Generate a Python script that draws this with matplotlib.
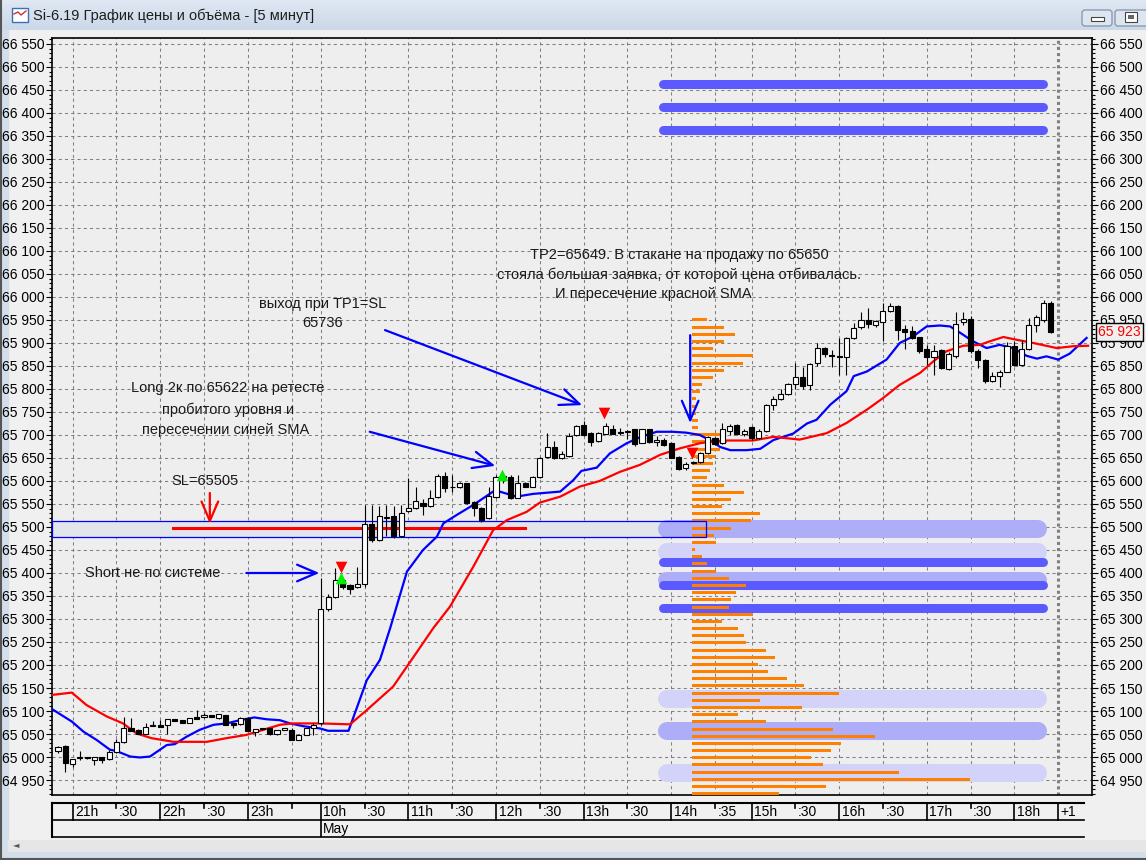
import numpy as np
import matplotlib.pyplot as plt
from matplotlib.patches import Rectangle, FancyBboxPatch

plt.rcParams['font.family'] = ['Liberation Sans', 'DejaVu Sans']

W, H = 1146, 860

# candles, 5 min, index 0 = 20:50
candle_open = [65012, 65024, 64984, 64997, 65000, 64993, 65000, 64995, 65010, 65032,
               65064, 65058, 65050, 65068, 65070, 65070, 65082, 65080, 65075, 65088,
               65086, 65091, 65084, 65091, 65073, 65071, 65085, 65055, 65062, 65062,
               65049, 65059, 65059, 65038, 65048, 65062, 65075, 65321, 65348, 65385,
               65373, 65370, 65376, 65506, 65471, 65520, 65524, 65480, 65534, 65541,
               65553, 65545, 65565, 65611, 65586, 65586, 65595, 65555, 65541, 65520,
               65565, 65609, 65609, 65563, 65596, 65588, 65608, 65653, 65674, 65649,
               65654, 65699, 65722, 65704, 65686, 65703, 65714, 65706, 65708, 65712,
               65683, 65712, 65684, 65690, 65682, 65652, 65628, 65640, 65641, 65661,
               65693, 65682, 65709, 65722, 65702, 65718, 65693, 65709, 65765, 65779,
               65790, 65811, 65826, 65809, 65857, 65889, 65874, 65871, 65870, 65911,
               65934, 65949, 65940, 65946, 65970, 65981, 65930, 65925, 65912, 65886,
               65869, 65884, 65843, 65872, 65945, 65953, 65883, 65862, 65817, 65829,
               65838, 65894, 65853, 65886, 65940, 65951, 65988]
candle_high = [65024, 65026, 64996, 65012, 65001, 65001, 65001, 65015, 65040, 65088,
               65084, 65060, 65075, 65078, 65081, 65083, 65083, 65081, 65085, 65103,
               65096, 65092, 65094, 65092, 65074, 65086, 65086, 65061, 65063, 65063,
               65059, 65063, 65062, 65049, 65063, 65073, 65389, 65355, 65410, 65390,
               65375, 65414, 65548, 65548, 65546, 65548, 65545, 65547, 65606, 65587,
               65560, 65580, 65616, 65620, 65613, 65597, 65596, 65557, 65543, 65587,
               65612, 65618, 65614, 65614, 65598, 65611, 65652, 65704, 65688, 65666,
               65704, 65722, 65731, 65706, 65706, 65727, 65722, 65716, 65710, 65713,
               65713, 65714, 65697, 65693, 65684, 65654, 65642, 65643, 65663, 65698,
               65696, 65726, 65724, 65724, 65712, 65720, 65712, 65768, 65785, 65800,
               65812, 65857, 65848, 65856, 65900, 65891, 65885, 65911, 65913, 65943,
               65967, 65976, 65950, 65987, 65988, 65983, 65940, 65938, 65914, 65896,
               65895, 65888, 65880, 65967, 65967, 65959, 65886, 65866, 65836, 65842,
               65903, 65904, 65907, 65954, 65960, 65994, 65991]
candle_low = [65008, 64968, 64978, 64993, 64996, 64983, 64988, 64994, 65008, 65031,
              65056, 65049, 65049, 65067, 65065, 65051, 65078, 65074, 65074, 65082,
              65085, 65087, 65083, 65069, 65063, 65070, 65056, 65046, 65059, 65048,
              65048, 65058, 65037, 65037, 65047, 65048, 65070, 65318, 65345, 65365,
              65355, 65368, 65370, 65467, 65470, 65480, 65476, 65478, 65532, 65540,
              65525, 65544, 65563, 65575, 65576, 65585, 65550, 65524, 65510, 65518,
              65562, 65595, 65560, 65562, 65587, 65586, 65606, 65650, 65647, 65647,
              65652, 65698, 65698, 65677, 65684, 65702, 65702, 65700, 65692, 65675,
              65682, 65683, 65676, 65677, 65650, 65624, 65623, 65637, 65640, 65659,
              65678, 65680, 65700, 65700, 65698, 65690, 65691, 65707, 65755, 65777,
              65788, 65800, 65800, 65797, 65850, 65870, 65848, 65831, 65831, 65909,
              65930, 65933, 65935, 65904, 65968, 65907, 65886, 65909, 65878, 65853,
              65830, 65843, 65841, 65868, 65940, 65878, 65846, 65813, 65815, 65804,
              65836, 65850, 65850, 65884, 65923, 65946, 65921]
candle_close = [65022, 64986, 64995, 64998, 64997, 65000, 64993, 65010, 65033, 65064,
                65057, 65050, 65066, 65068, 65066, 65082, 65079, 65075, 65084, 65083,
                65091, 65088, 65093, 65070, 65070, 65085, 65057, 65060, 65060, 65049,
                65058, 65062, 65038, 65048, 65062, 65070, 65322, 65348, 65385, 65370,
                65366, 65375, 65506, 65471, 65524, 65521, 65480, 65530, 65541, 65556,
                65545, 65563, 65611, 65585, 65586, 65595, 65552, 65541, 65515, 65567,
                65609, 65608, 65563, 65595, 65588, 65609, 65650, 65674, 65649, 65659,
                65698, 65720, 65699, 65685, 65705, 65720, 65703, 65705, 65707, 65680,
                65712, 65685, 65689, 65679, 65651, 65626, 65638, 65641, 65661, 65696,
                65680, 65712, 65720, 65703, 65709, 65693, 65709, 65765, 65779, 65790,
                65810, 65825, 65807, 65855, 65889, 65875, 65872, 65870, 65911, 65933,
                65949, 65941, 65947, 65969, 65981, 65928, 65923, 65911, 65882, 65869,
                65882, 65846, 65877, 65942, 65953, 65882, 65864, 65817, 65829, 65838,
                65894, 65853, 65887, 65940, 65957, 65987, 65923]

# SMA lines (x in candle index)
blue_x = [-0.8, 1.9, 3.5, 5.3, 7.1, 8.0, 9.9, 11.2, 12.6, 14.9, 16, 17.6, 19.4, 21.3, 23.1,
          24.9, 26.9, 28.6, 30.4, 31.8, 33.6, 35.9, 37, 39.8, 42.3, 44.1, 45.5, 47.8, 50,
          51.9, 52.8, 54.6, 56.9, 59.6, 60.5, 62.8, 65.1, 68.8, 70.6, 71.7, 73.8, 75.6,
          77.9, 79.7, 82, 84.2, 86.1, 87.9, 89.3, 90.7, 92.1, 94.3, 96.2, 98, 100.7,
          102.6, 103.9, 105.8, 108, 109, 110.8, 113.5, 115.3, 117.1, 119, 120.8, 122.2,
          123.6, 125.3, 127.2, 129, 130.8, 132.7, 134.1, 135.4, 137, 138.6, 140.9]
blue_y = [65104, 65077, 65055, 65037, 65016, 65013, 65001, 64999, 65001, 65026, 65028,
          65044, 65059, 65070, 65073, 65080, 65086, 65082, 65080, 65073, 65067, 65062,
          65057, 65057, 65167, 65211, 65280, 65403, 65450, 65479, 65508, 65526, 65548,
          65577, 65577, 65566, 65572, 65577, 65602, 65622, 65629, 65660, 65682, 65695,
          65707, 65707, 65705, 65700, 65689, 65674, 65667, 65667, 65670, 65689, 65703,
          65725, 65733, 65766, 65795, 65828, 65838, 65864, 65900, 65914, 65936, 65938,
          65936, 65922, 65904, 65889, 65896, 65889, 65872, 65866, 65871, 65864, 65877,
          65911]
red_x = [-0.8, 1.9, 3.9, 6.7, 8.9, 10.8, 12.8, 15.8, 20.4, 23.1, 25.8, 28.1, 30.4, 32.2,
         35.9, 40, 42.3, 45.9, 48.9, 51.4, 53.7, 56.9, 59.6, 61.5, 64.2, 66, 68.8, 71.5,
         74.2, 77, 79.7, 82.5, 85.2, 87.9, 89.7, 91.5, 95.2, 98, 101.6, 105.3, 108, 110.8,
         113, 115.3, 118.1, 119.9, 121.7, 124, 126.3, 127.7, 129.5, 131.3, 133.6, 136.8,
         139.1, 141.1]
red_y = [65135, 65140, 65113, 65088, 65073, 65051, 65041, 65033, 65033, 65041, 65048,
         65059, 65070, 65073, 65073, 65071, 65102, 65153, 65222, 65280, 65327, 65414,
         65493, 65515, 65533, 65553, 65566, 65588, 65600, 65620, 65635, 65657, 65671,
         65682, 65686, 65688, 65688, 65696, 65690, 65704, 65726, 65755, 65780, 65809,
         65835, 65860, 65882, 65894, 65896, 65904, 65913, 65907, 65900, 65889, 65893,
         65894]

# volume profile (top level 65950, step 15.6)
profile_top = 65950
profile_step = 15.6
profile_volume = [15, 32, 43, 32, 21, 61, 51, 32, 21, 10, 8, 4, 4, 4, 6, 6, 33, 35, 28, 23,
                  21, 18, 15, 32, 52, 39, 30, 68, 59, 39, 22, 24, 3, 10, 15, 24, 37, 54,
                  44, 39, 37, 61, 30, 46, 52, 54, 74, 83, 66, 76, 95, 112, 147, 68, 110,
                  46, 74, 141, 183, 149, 139, 119, 131, 207, 278, 134, 87]

# order book levels: price, thickness(px), shade
book_price = [66463, 66413, 66363, 65496, 65446, 65424, 65385, 65374, 65324, 65126, 65056, 64965]
book_size = [9, 9, 9, 18, 18, 9, 16, 9, 9, 18, 18, 18]
book_shade = ['dark', 'dark', 'dark', 'mid', 'light', 'dark', 'mid', 'dark', 'dark', 'light', 'mid', 'light']

# signals
sig_down_x = [38.8, 74.8, 86.8]
sig_down_y = [65412, 65747, 65660]
sig_up_x = [38.8, 60.8]
sig_up_y = [65390, 65613]

time_ticks = [2, 8, 14, 20, 26, 32, 36, 42, 48, 54, 60, 66, 72, 78, 84, 90, 95, 101, 107,
              113, 119, 125, 131, 137]
time_labels = ['21h', ':30', '22h', ':30', '23h', '', '10h', ':30', '11h', ':30', '12h',
               ':30', '13h', ':30', '14h', ':35', '15h', ':30', '16h', ':30', '17h', ':30',
               '18h', '+1']

last_price = 65923
px_per_bar = 7.3


def rect(x0, y0, x1, y1):
    return [x0 / W, 1 - y1 / H, (x1 - x0) / W, (y1 - y0) / H]


fig = plt.figure(figsize=(W / 100, H / 100), dpi=100)
fig.patch.set_facecolor('#f0f0f0')

# window chrome
bg = fig.add_axes([0, 0, 1, 1], zorder=-10)
bg.set_xlim(0, W)
bg.set_ylim(H, 0)
bg.axis('off')
grad = np.linspace(0, 1, 30).reshape(-1, 1)
bg.imshow(grad, extent=(0, W, 30, 0), cmap=plt.matplotlib.colors.LinearSegmentedColormap.from_list(
    'tb', ['#dfe8f3', '#cbd8e8']), aspect='auto')
bg.add_patch(Rectangle((0, 30), 8, H - 30, color='#d3deeb'))
bg.add_patch(Rectangle((0, 851), W, 9, color='#d3deeb'))
bg.add_patch(Rectangle((8, 840), W, 11, color='#e6e6e6'))
bg.plot([0, W], [859, 859], color='#555555', lw=1.5)
bg.plot([0.5, 0.5], [0, H], color='#555555', lw=1.5)
bg.text(16, 845, '◄', fontsize=6, color='#555555', va='center', ha='center',
        family='DejaVu Sans')
bg.add_patch(Rectangle((12, 8), 16, 14, fc='#ffffff', ec='#3b6fb6', lw=1))
bg.plot([14, 18, 21, 26], [14, 12, 15, 11], color='#d03030', lw=1)
bg.text(33, 16, 'Si-6.19 График цены и объёма - [5 минут]', fontsize=10.5,
        color='#1e1e1e', va='center', ha='left')
for bx0, bx1 in [(1082, 1112), (1115, 1150)]:
    bg.add_patch(FancyBboxPatch((bx0, 10), bx1 - bx0, 16, boxstyle='round,pad=0,rounding_size=3',
                                fc='#dde6f0', ec='#8a9ab0', lw=1))
bg.add_patch(Rectangle((1091, 17), 13, 4, fc='white', ec='#444444', lw=0.8))
bg.add_patch(Rectangle((1125, 12), 12, 10, fc='white', ec='#444444', lw=0.8))
bg.add_patch(Rectangle((1128, 15), 6, 4, fc='#666666', ec='none'))

# main chart
ax = fig.add_axes(rect(52, 38, 1092, 795))
ax.set_facecolor('#eeeeee')
xmin, xmax = -0.82, 141.64
ymin, ymax = 64917.4, 66563
ax.set_xlim(xmin, xmax)
ax.set_ylim(ymin, ymax)

for t in time_ticks[:-1]:
    ax.axvline(t, color='#808080', lw=0.75, ls=(0, (3, 3)), zorder=0.5)
for p in range(64950, 66600, 50):
    ax.axhline(p, color='#808080', lw=0.75, ls=(0, (3, 3)), zorder=0.5)
ax.axvline(time_ticks[-1], color='#808080', lw=2.2, ls=(0, (1, 1)), zorder=0.6)

# level box
ax.add_patch(Rectangle((xmin, 65477.6), 88.8 - xmin, 65513.7 - 65477.6,
                       fc='#e2e6ea', ec='none', zorder=1))
ax.add_patch(Rectangle((xmin, 65477.6), 88.8 - xmin, 65513.7 - 65477.6,
                       fill=False, ec='#0000ff', lw=0.9, zorder=3.5, clip_on=False))

# order book bands
shade_col = {'dark': '#5a5aff', 'mid': '#adadf8', 'light': '#d3d3fa'}
for p, s, sh in zip(book_price, book_size, book_shade):
    r = s / 2 / px_per_bar
    ax.plot([82.2 + r, 135.5 - r], [p, p], color=shade_col[sh], lw=s * 0.72,
            solid_capstyle='round', zorder=2)

# volume profile
prof_prices = profile_top - profile_step * np.arange(len(profile_volume))
ax.barh(prof_prices, np.array(profile_volume) / px_per_bar, left=86.8, height=6.5,
        color='#ff8000', zorder=3)

# SL line
ax.plot([15.75, 64], [65498, 65498], color='#ff0000', lw=2.2, zorder=3.6)

# SMAs
ax.plot(blue_x, blue_y, color='#0000ff', lw=1.6, zorder=4)
ax.plot(red_x, red_y, color='#ff0000', lw=1.6, zorder=4)

# candles
xs = np.arange(len(candle_open))
o = np.array(candle_open)
c = np.array(candle_close)
ax.vlines(xs, candle_low, candle_high, color='black', lw=0.8, zorder=5)
body_low = np.minimum(o, c)
body_h = np.maximum(np.abs(c - o), 2)
colors = np.where(c >= o, 'white', 'black')
ax.bar(xs, body_h, bottom=body_low, width=0.7, color=colors, edgecolor='black',
       linewidth=0.8, zorder=6)

ax.scatter(sig_down_x, sig_down_y, marker='v', s=70, color='#ff0000', zorder=7, linewidths=0)
ax.scatter(sig_up_x, sig_up_y, marker='^', s=70, color='#00ee00', zorder=7, linewidths=0)

# annotations
tc = '#1a1a1a'
fs = 10.5
ax.text(85.1, 66091, 'TP2=65649. В стакане на продажу по 65650', ha='center', va='center',
        fontsize=fs, color=tc, zorder=8)
ax.text(85.1, 66048, 'стояла большая заявка, от которой цена отбивалась.', ha='center',
        va='center', fontsize=fs, color=tc, zorder=8)
ax.text(81.6, 66007, 'И пересечение красной SMA', ha='center', va='center',
        fontsize=fs, color=tc, zorder=8)
ax.text(36.3, 65985, 'выход при TP1=SL', ha='center', va='center', fontsize=fs, color=tc)
ax.text(36.3, 65943, '65736', ha='center', va='center', fontsize=fs, color=tc)
ax.text(23.2, 65802, 'Long 2к по 65622 на ретесте', ha='center', va='center', fontsize=fs, color=tc)
ax.text(23.3, 65754, 'пробитого уровня и', ha='center', va='center', fontsize=fs, color=tc)
ax.text(22.9, 65711, 'пересечении синей SMA', ha='center', va='center', fontsize=fs, color=tc)
ax.text(20.1, 65600, 'SL=65505', ha='center', va='center', fontsize=fs, color=tc)
ax.text(3.7, 65400, 'Short не по системе', ha='left', va='center', fontsize=fs, color=tc)

arrow_kw = dict(arrowstyle='->,head_length=0.7,head_width=0.3', color='#0000ff', lw=1.6,
                shrinkA=0, shrinkB=0, mutation_scale=20)
for (x0, y0), (x1, y1) in [((25.8, 65400), (35.8, 65400)),
                           ((42.7, 65707), (59.9, 65633)),
                           ((44.8, 65928), (71.8, 65765)),
                           ((86.6, 65917), (86.6, 65726))]:
    ax.annotate('', xy=(x1, y1), xytext=(x0, y0), arrowprops=arrow_kw, zorder=8)
ax.annotate('', xy=(20.8, 65507), xytext=(20.8, 65574),
            arrowprops=dict(arrow_kw, color='#ff0000'), zorder=8)

# axes, ticks
ax.set_xticks([])
ax.set_yticks(np.arange(64950, 66551, 50))
ax.set_yticks(np.arange(64920, 66561, 10), minor=True)
ax.set_yticklabels([f'{int(v):,}'.replace(',', ' ') for v in np.arange(64950, 66551, 50)])
ax.tick_params(axis='y', which='both', direction='out', left=True, right=True,
               labelleft=True, labelright=True, labelsize=10, colors='black', width=0.8)
ax.tick_params(axis='y', which='major', length=4, pad=1.5)
ax.tick_params(axis='y', which='minor', length=2)
for sp in ax.spines.values():
    sp.set_color('black')
    sp.set_linewidth(1.2)

ax.text(1.006, last_price, f'{last_price:,}'.replace(',', ' '), transform=ax.get_yaxis_transform(),
        color='#ff0000', fontsize=10, ha='left', va='center', zorder=10, clip_on=False,
        bbox=dict(boxstyle='square,pad=0.15', fc='#f0f0f0', ec='black', lw=1))

# time axis
tax = fig.add_axes(rect(52, 803, 1092, 837))
tax.set_xlim(xmin, xmax)
tax.set_ylim(0, 2)
tax.axis('off')
x_end = 140.5
tax.plot([xmin, x_end], [2, 2], color='black', lw=1.5, clip_on=False)
tax.plot([xmin, x_end], [1, 1], color='black', lw=1.2, clip_on=False)
tax.plot([xmin, x_end], [0, 0], color='black', lw=1.2, clip_on=False)
tax.plot([xmin, xmin], [0, 2], color='black', lw=1.5, clip_on=False)
for t, lab in zip(time_ticks, time_labels):
    if lab.endswith('h') or lab == '+1':
        tax.plot([t, t], [1, 2], color='black', lw=1.2)
    else:
        tax.plot([t, t], [1.72, 2], color='black', lw=1.2)
    if lab:
        tax.text(t + 0.35, 1.45, lab, fontsize=10, ha='left', va='center', color='black')
tax.plot([36, 36], [0, 1], color='black', lw=1.2)
tax.text(36.35, 0.45, 'May', fontsize=10, ha='left', va='center', color='black')

fig.savefig('out.png', dpi=100, facecolor=fig.get_facecolor())
